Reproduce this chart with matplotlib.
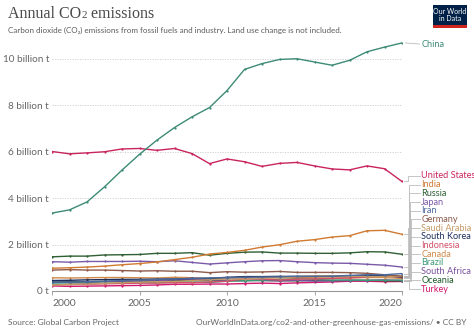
import matplotlib
matplotlib.use("Agg")
import matplotlib.pyplot as plt
from matplotlib.patches import Rectangle

years = list(range(2000, 2021))

# Annual CO2 emissions, billion tonnes
china = [3.35, 3.49, 3.83, 4.48, 5.20, 5.88, 6.49, 7.03, 7.49, 7.89, 8.62,
         9.53, 9.78, 9.96, 9.99, 9.85, 9.71, 9.92, 10.29, 10.49, 10.67]
united_states = [6.00, 5.90, 5.94, 5.99, 6.11, 6.13, 6.05, 6.13, 5.91, 5.48, 5.68,
                 5.56, 5.36, 5.49, 5.53, 5.38, 5.25, 5.21, 5.38, 5.26, 4.71]
india = [0.98, 1.00, 1.03, 1.07, 1.13, 1.18, 1.25, 1.35, 1.45, 1.59, 1.66,
         1.75, 1.89, 1.99, 2.14, 2.21, 2.32, 2.38, 2.59, 2.61, 2.44]
russia = [1.47, 1.50, 1.50, 1.55, 1.56, 1.57, 1.62, 1.62, 1.65, 1.54, 1.62,
          1.67, 1.68, 1.63, 1.63, 1.62, 1.62, 1.64, 1.69, 1.68, 1.58]
japan = [1.26, 1.24, 1.27, 1.27, 1.27, 1.28, 1.26, 1.30, 1.23, 1.16, 1.21,
         1.26, 1.30, 1.31, 1.26, 1.22, 1.20, 1.19, 1.15, 1.11, 1.03]
iran = [0.37, 0.38, 0.40, 0.42, 0.45, 0.47, 0.50, 0.52, 0.54, 0.56, 0.57,
        0.59, 0.60, 0.61, 0.64, 0.63, 0.64, 0.67, 0.70, 0.70, 0.75]
germany = [0.90, 0.92, 0.90, 0.90, 0.88, 0.86, 0.87, 0.85, 0.85, 0.79, 0.83,
           0.81, 0.82, 0.84, 0.80, 0.80, 0.80, 0.79, 0.76, 0.70, 0.64]
saudi_arabia = [0.26, 0.28, 0.30, 0.33, 0.36, 0.38, 0.40, 0.41, 0.45, 0.48, 0.52,
                0.51, 0.56, 0.57, 0.62, 0.65, 0.66, 0.64, 0.62, 0.61, 0.63]
south_korea = [0.45, 0.46, 0.48, 0.49, 0.50, 0.50, 0.51, 0.52, 0.54, 0.54, 0.59,
               0.62, 0.62, 0.63, 0.62, 0.63, 0.63, 0.65, 0.67, 0.65, 0.60]
indonesia = [0.26, 0.28, 0.29, 0.31, 0.32, 0.34, 0.34, 0.36, 0.36, 0.39, 0.42,
             0.52, 0.52, 0.47, 0.51, 0.52, 0.54, 0.56, 0.60, 0.66, 0.59]
canada = [0.57, 0.56, 0.57, 0.58, 0.58, 0.57, 0.56, 0.59, 0.57, 0.54, 0.55,
          0.56, 0.56, 0.57, 0.57, 0.57, 0.56, 0.57, 0.58, 0.58, 0.54]
brazil = [0.34, 0.35, 0.34, 0.33, 0.35, 0.35, 0.36, 0.37, 0.39, 0.37, 0.42,
          0.44, 0.47, 0.50, 0.53, 0.50, 0.47, 0.47, 0.46, 0.46, 0.47]
south_africa = [0.38, 0.37, 0.37, 0.40, 0.43, 0.42, 0.44, 0.48, 0.50, 0.48, 0.46,
                0.45, 0.46, 0.44, 0.46, 0.43, 0.44, 0.45, 0.45, 0.48, 0.45]
oceania = [0.38, 0.40, 0.40, 0.41, 0.42, 0.43, 0.44, 0.45, 0.46, 0.45, 0.45,
           0.45, 0.45, 0.44, 0.44, 0.45, 0.45, 0.46, 0.46, 0.45, 0.43]
turkey = [0.22, 0.20, 0.21, 0.22, 0.23, 0.24, 0.26, 0.29, 0.29, 0.30, 0.30,
          0.32, 0.34, 0.32, 0.35, 0.37, 0.39, 0.42, 0.42, 0.40, 0.41]

names = ["China", "United States", "India", "Russia", "Japan", "Iran", "Germany",
         "Saudi Arabia", "South Korea", "Indonesia", "Canada", "Brazil",
         "South Africa", "Oceania", "Turkey"]
values = [china, united_states, india, russia, japan, iran, germany,
          saudi_arabia, south_korea, indonesia, canada, brazil,
          south_africa, oceania, turkey]
colors = ["#3d8b76", "#c9245f", "#d07a32", "#2f5f33", "#7a5aa8", "#4c6a9c",
          "#8d5a4b", "#c49a66", "#1f2f5c", "#d0506a", "#cf8a4c", "#3c9a78",
          "#7a4f9e", "#1f5a2a", "#d2176c"]

ytick_vals = [0, 2, 4, 6, 8, 10]
ytick_labels = ["0 t", "2 billion t", "4 billion t", "6 billion t",
                "8 billion t", "10 billion t"]
xtick_vals = [2000, 2005, 2010, 2015, 2020]

SANS = ["Lato", "DejaVu Sans"]
SERIF = ["Liberation Serif", "DejaVu Serif"]

W, H = 474, 334
fig = plt.figure(figsize=(W / 100, H / 100), dpi=100)
fig.patch.set_facecolor("white")

ax_l, ax_r, ax_b, ax_t = 52, 402, 291, 42
ax = fig.add_axes([ax_l / W, 1 - ax_b / H, (ax_r - ax_l) / W, (ax_b - ax_t) / H])
ax.set_xlim(2000, 2020)
ax.set_ylim(0, 10.71)
ax.set_facecolor("none")

for s in ["top", "right", "left"]:
    ax.spines[s].set_visible(False)
ax.spines["bottom"].set_color("#999999")
ax.spines["bottom"].set_linewidth(0.8)

ax.set_yticks(ytick_vals)
ax.set_yticklabels(ytick_labels)
ax.set_xticks(xtick_vals)
ax.set_xticklabels([str(v) for v in xtick_vals])
ax.tick_params(axis="y", length=0, pad=2, labelsize=7.2, labelcolor="#666666")
ax.tick_params(axis="x", length=3, width=0.6, color="#999999", pad=3,
               labelsize=7.5, labelcolor="#666666")
for lbl in ax.get_yticklabels() + ax.get_xticklabels():
    lbl.set_fontfamily(SANS)
xl = ax.get_xticklabels()
xl[0].set_horizontalalignment("left")
xl[-1].set_horizontalalignment("right")

for v in ytick_vals[1:]:
    ax.axhline(v, color="#cccccc", lw=0.6, ls=(0, (1.5, 1.5)), zorder=0)

# draw lines, bottom ones last so the big series stay readable
for name, vals, c in reversed(list(zip(names, values, colors))):
    ax.plot(years, vals, color=c, lw=1.0, marker="o", ms=1.6, mew=0,
            zorder=3 if name in ("China", "United States") else 2)

# end labels with leader lines
label_x = 2021.1
elbow_x = 2020.5
china_label_y = china[-1] - 0.05
ax.plot([2020.2, label_x - 0.1], [china[-1], china_label_y], color="#bbbbbb",
        lw=0.6, clip_on=False)
ax.text(label_x, china_label_y, "China", color=colors[0], fontsize=6.6,
        va="center", ha="left", family=SANS)

top_label = 4.95
spacing = 0.3745
for i, (name, vals, c) in enumerate(zip(names[1:], values[1:], colors[1:])):
    ly = top_label - i * spacing
    ex = elbow_x - 0.15 + 0.03 * (i % 6)
    ax.plot([2020.1, ex, ex, label_x - 0.08], [vals[-1], vals[-1], ly, ly],
            color="#bbbbbb", lw=0.6, clip_on=False, zorder=1)
    ax.text(label_x, ly, name, color=c, fontsize=6.6, va="center", ha="left",
            family=SANS)

# header: title with a small baseline "2"
renderer = fig.canvas.get_renderer()
ty = 1 - 18 / H
t1 = fig.text(8 / W, ty, "Annual CO", fontsize=11.5, color="#4a4a4a",
              va="baseline", ha="left", family=SERIF)
x1 = t1.get_window_extent(renderer).x1 / (W)
t2 = fig.text(x1 + 0.5 / W, ty, "2", fontsize=8, color="#4a4a4a",
              va="baseline", ha="left", family=SERIF)
x2 = t2.get_window_extent(renderer).x1 / (W)
fig.text(x2, ty, " emissions", fontsize=11.5, color="#4a4a4a",
         va="baseline", ha="left", family=SERIF)

fig.text(8 / W, 1 - 30 / H,
         "Carbon dioxide (CO₂) emissions from fossil fuels and industry. "
         "Land use change is not included.",
         fontsize=5.8, color="#5b5b5b", va="center", ha="left", family=SANS)

# logo
lx0, ly0, lw_, lh_ = 433, 5, 34, 23
fig.patches.append(Rectangle((lx0 / W, 1 - (ly0 + lh_) / H), lw_ / W, lh_ / H,
                             transform=fig.transFigure, facecolor="#002147",
                             edgecolor="none"))
fig.patches.append(Rectangle((lx0 / W, 1 - (ly0 + lh_) / H), lw_ / W, 2.5 / H,
                             transform=fig.transFigure, facecolor="#ce261e",
                             edgecolor="none"))
fig.text((lx0 + lw_ / 2) / W, 1 - (ly0 + 10) / H, "Our World\nin Data",
         fontsize=5, color="white", va="center", ha="center", linespacing=1.0,
         family=SANS)

# footer
fig.text(8 / W, 1 - 322 / H, "Source: Global Carbon Project", fontsize=6,
         color="#666666", va="center", ha="left", family=SANS)
fig.text(466 / W, 1 - 322 / H,
         "OurWorldInData.org/co2-and-other-greenhouse-gas-emissions/ • CC BY",
         fontsize=6, color="#666666", va="center", ha="right", family=SANS)

fig.savefig("out.png", dpi=100, facecolor="white")
